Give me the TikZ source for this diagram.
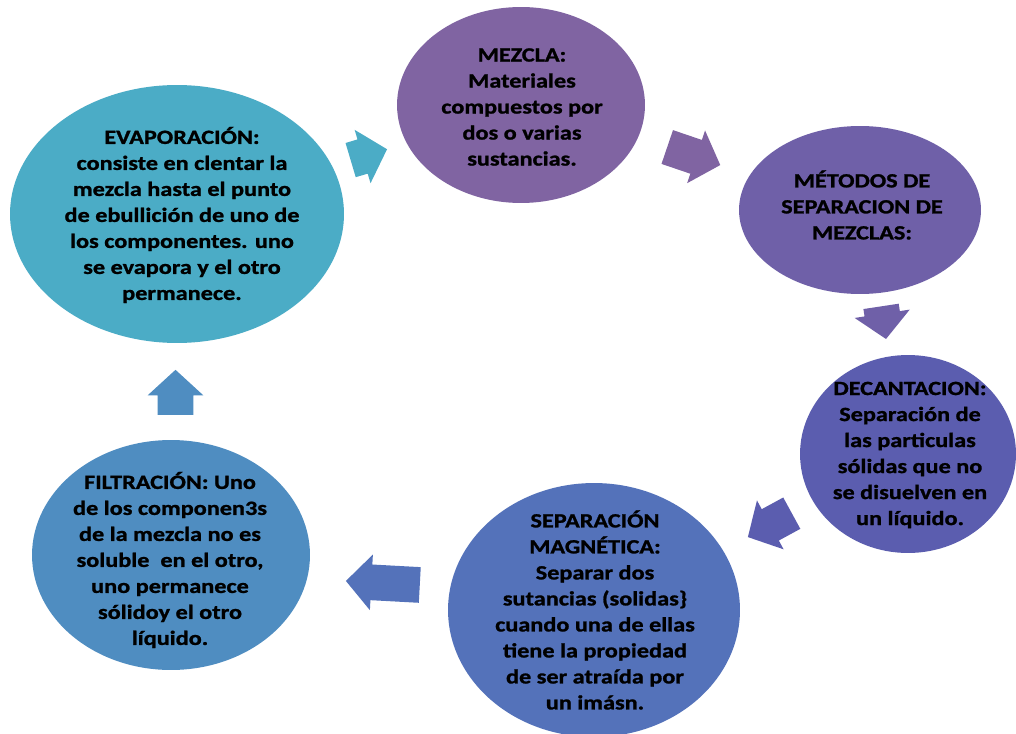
\documentclass[tikz,border=0pt]{standalone}
\usepackage{fontspec}
\setmainfont{Carlito}[FakeStretch=1.2, BoldFeatures={FakeBold=1.2}]
\usetikzlibrary{shapes.geometric,shapes.arrows}

\definecolor{cEvap}{RGB}{75,172,198}
\definecolor{cMezcla}{RGB}{128,100,162}
\definecolor{cMetodos}{RGB}{111,96,168}
\definecolor{cDecant}{RGB}{91,93,175}
\definecolor{cMagnet}{RGB}{84,114,186}
\definecolor{cFiltr}{RGB}{79,141,193}

\tikzset{
  burbuja/.style={ellipse, draw=none, inner sep=0pt},
  texto/.style={align=center, inner sep=0pt, text=black,
    font=\fontsize{11.5}{14.8}\selectfont\bfseries},
  flecha/.style={single arrow, draw=none, inner xsep=0pt, inner ysep=0.35cm,
    single arrow head extend=0.2cm, single arrow tip angle=95},
}

\begin{document}
\begin{tikzpicture}[x=0.02cm, y=-0.02cm]
    \useasboundingbox[fill=white] (0,0) rectangle (1016,733);

    % burbujas
    \node[burbuja, fill=cEvap, minimum width=6.68cm, minimum height=5.16cm] (evap) at (177,214) {};
    \node[burbuja, fill=cMezcla, minimum width=4.96cm, minimum height=3.92cm] (mezcla) at (521,105) {};
    \node[burbuja, fill=cMetodos, minimum width=4.84cm, minimum height=3.36cm] (metodos) at (860,210) {};
    \node[burbuja, fill=cDecant, minimum width=4.32cm, minimum height=3.96cm] (decant) at (908,454) {};
    \node[burbuja, fill=cMagnet, minimum width=5.84cm, minimum height=5.08cm] (magnet) at (594,610) {};
    \node[burbuja, fill=cFiltr, minimum width=5.56cm, minimum height=4.60cm] (filtr) at (171,555) {};

    % textos
    \node[texto] (evapT) at (182,215) {EVAPORACIÓN:\\consiste en clentar la\\mezcla hasta el punto\\de ebullición de uno de\\los componentes. uno\\se evapora y el otro\\permanece.};
    \node[texto] (mezclaT) at (522,107) {MEZCLA:\\Materiales\\compuestos por\\dos o varias\\sustancias.};
    \node[texto] (metodosT) at (862,205) {MÉTODOS DE\\SEPARACION DE\\MEZCLAS:};
    \node[texto] (decantT) at (910,455) {DECANTACION:\\Separación de\\las particulas\\sólidas que no\\se disuelven en\\un líquido.};
    \node[texto] (magnetT) at (595,610) {SEPARACIÓN\\MAGNÉTICA:\\Separar dos\\sutancias (solidas\}\\cuando una de ellas\\tiene la propiedad\\de ser atraída por\\un imásn.};
    \node[texto] (filtrT) at (170,560) {FILTRACIÓN: Uno\\de los componen3s\\de la mezcla no es\\soluble~ en el otro,\\uno permanece\\sólidoy el otro\\líquido.};

    % flechas
    \node[flecha, fill=cEvap, minimum height=0.76cm, rotate=16.6] (f1) at (361,157) {};
    \node[flecha, fill=cMezcla, minimum height=1.12cm, rotate=-18.8] (f2) at (686,153.4) {};
    \node[flecha, fill=cMetodos, minimum height=0.66cm, rotate=-81.4] (f3) at (882.3,314.6) {};
    \node[flecha, fill=cDecant, minimum height=1.0cm, rotate=208.6] (f4) at (777,521.2) {};
    \node[flecha, fill=cMagnet, minimum height=1.48cm, rotate=176.9] (f5) at (391,583.4) {};
    \node[flecha, fill=cFiltr, minimum height=0.9cm, rotate=90] (f6) at (175.5,400.5) {};
\end{tikzpicture}
\end{document}
